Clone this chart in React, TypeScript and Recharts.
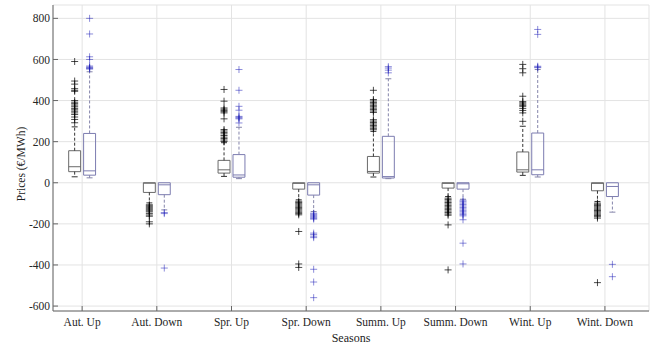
import React from 'react';
import {
    ComposedChart,
    XAxis,
    YAxis,
    CartesianGrid,
    Scatter,
    ReferenceArea,
    ReferenceLine,
} from 'recharts';

const seasons = ['Aut. Up', 'Aut. Down', 'Spr. Up', 'Spr. Down', 'Summ. Up', 'Summ. Down', 'Wint. Up', 'Wint. Down'];
const seasonTicks = [1, 2, 3, 4, 5, 6, 7, 8];
const priceTicks = [-600, -400, -200, 0, 200, 400, 600, 800];

// first box of each pair (black)
const blackLow = [29, -98, 31, -83, 28, -67, 36, -91];
const blackQ1 = [54, -47, 47, -31, 47, -26, 52, -39];
const blackMedian = [78, -2, 63, -3, 55, -3, 63, -3];
const blackQ3 = [156, 0, 109, 0, 128, 0, 150, 0];
const blackHigh = [272, 0, 195, 0, 250, 0, 275, 0];
const blackOutliers: number[][] = [
    [590, 495, 480, 458, 450, 445, 400, 392, 385, 378, 370, 362, 355, 348, 340, 332, 320, 308, 292],
    [-107, -112, -117, -122, -127, -132, -137, -142, -150, -157, -163, -190, -200],
    [454, 397, 364, 358, 352, 346, 340, 311, 259, 252, 245, 238, 230, 222, 215, 208, 201],
    [-90, -96, -102, -108, -114, -120, -126, -132, -138, -144, -150, -156, -237, -395, -412],
    [450, 405, 398, 391, 384, 377, 370, 363, 356, 349, 342, 307, 300, 293, 286, 279, 272, 265, 258],
    [-75, -82, -89, -96, -103, -110, -117, -124, -131, -138, -145, -152, -158, -205, -424],
    [576, 555, 535, 421, 395, 389, 383, 377, 372, 362, 352, 340, 299],
    [-99, -105, -111, -117, -123, -129, -135, -141, -147, -153, -159, -165, -172, -486],
];

// second box of each pair (blue)
const blueLow = [24, -132, 20, -140, 20, -80, 28, -143];
const blueQ1 = [37, -58, 27, -60, 23, -31, 39, -67];
const blueMedian = [58, -10, 38, -10, 30, -5, 63, -18];
const blueQ3 = [240, 0, 137, 0, 226, 0, 242, 0];
const blueHigh = [540, 0, 270, 0, 506, 0, 551, 0];
const blueOutliers: number[][] = [
    [800, 724, 613, 600, 568, 563, 560, 556, 553],
    [-145, -150, -415],
    [551, 450, 372, 353, 323, 319, 315, 311, 291],
    [-148, -153, -158, -163, -168, -173, -177, -245, -252, -260, -267, -421, -483, -559],
    [535, 548, 558, 565],
    [-85, -92, -99, -106, -113, -120, -127, -134, -141, -148, -155, -161, -180, -294, -395],
    [560, 563, 567, 722, 746],
    [-397, -457],
];

const FONT = 'Liberation Serif, Times New Roman, Times, serif';
const BOX_SHIFT = 0.1;
const BOX_HALF = 0.08;
const CAP_HALF = 0.04;

const toPoints = (lists: number[][], shift: number) =>
    lists.flatMap((vals, i) => vals.map((y) => ({ x: i + 1 + shift, y })));

const Plus = (color: string, opacity: number) => (props: any) => {
    const { cx, cy } = props;
    if (cx == null || cy == null) return <g />;
    return (
        <g stroke={color} strokeOpacity={opacity} strokeWidth={1}>
            <line x1={cx - 3.5} x2={cx + 3.5} y1={cy} y2={cy} />
            <line x1={cx} x2={cx} y1={cy - 3.5} y2={cy + 3.5} />
        </g>
    );
};

function boxes(
    name: string,
    shift: number,
    low: number[],
    q1: number[],
    median: number[],
    q3: number[],
    high: number[],
    boxColor: string,
    whiskerColor: string
) {
    return seasons.flatMap((_, i) => {
        const c = i + 1 + shift;
        const items = [];
        if (high[i] > q3[i]) {
            items.push(
                <ReferenceLine key={`${name}-hw-${i}`} segment={[{ x: c, y: q3[i] }, { x: c, y: high[i] }]}
                    stroke={whiskerColor} strokeDasharray="3 2" />,
                <ReferenceLine key={`${name}-hc-${i}`} segment={[{ x: c - CAP_HALF, y: high[i] }, { x: c + CAP_HALF, y: high[i] }]}
                    stroke={whiskerColor} />
            );
        }
        if (low[i] < q1[i]) {
            items.push(
                <ReferenceLine key={`${name}-lw-${i}`} segment={[{ x: c, y: q1[i] }, { x: c, y: low[i] }]}
                    stroke={whiskerColor} strokeDasharray="3 2" />,
                <ReferenceLine key={`${name}-lc-${i}`} segment={[{ x: c - CAP_HALF, y: low[i] }, { x: c + CAP_HALF, y: low[i] }]}
                    stroke={whiskerColor} />
            );
        }
        items.push(
            <ReferenceArea key={`${name}-box-${i}`} x1={c - BOX_HALF} x2={c + BOX_HALF} y1={q1[i]} y2={q3[i]}
                fill="#fff" fillOpacity={0} stroke={boxColor} strokeWidth={1} strokeOpacity={1} />,
            <ReferenceLine key={`${name}-med-${i}`} segment={[{ x: c - BOX_HALF, y: median[i] }, { x: c + BOX_HALF, y: median[i] }]}
                stroke={boxColor} />
        );
        return items;
    });
}

const YLabel = (props: any) => {
    const { viewBox } = props;
    const x = viewBox.x + 13;
    const y = viewBox.y + viewBox.height / 2 + 6;
    return (
        <text x={x} y={y} transform={`rotate(-90, ${x}, ${y})`} textAnchor="middle" dominantBaseline="central"
            style={{ fontFamily: FONT, fontSize: 11.5 }} fill="#222">
            Prices (€/MWh)
        </text>
    );
};

const App: React.FC = () => {
    const blackPoints = toPoints(blackOutliers, -BOX_SHIFT);
    const bluePoints = toPoints(blueOutliers, BOX_SHIFT);
    const tickStyle = { fill: '#262626', fontSize: 11.5, fontFamily: FONT, style: { fontFamily: FONT } };
    const xDomain: [number, number] = [0.61, 8.59];
    const yDomain: [number, number] = [-624, 865];

    return (
        <div style={{ position: 'absolute', left: 0, top: 0, width: 667, height: 345, background: '#fff', fontFamily: FONT }}>
            <ComposedChart width={667} height={345} margin={{ top: 5, right: 18, left: 8, bottom: 0 }}
                style={{ fontFamily: FONT }}>
                <CartesianGrid stroke="#e3e3e3" />
                <XAxis dataKey="x" type="number" domain={xDomain} ticks={seasonTicks} interval={0} allowDataOverflow
                    tickFormatter={(v: number) => seasons[v - 1]} tickSize={-5} tickMargin={12} height={34}
                    stroke="#666" tick={tickStyle}
                    label={{ value: 'Seasons', position: 'insideBottom', offset: 3, fill: '#222', fontSize: 12, fontFamily: FONT }} />
                <XAxis xAxisId="top" dataKey="x" orientation="top" type="number" domain={xDomain} ticks={seasonTicks}
                    interval={0} allowDataOverflow tickFormatter={() => ''} tickSize={-5} height={0} stroke="#666" />
                <YAxis dataKey="y" type="number" domain={yDomain} ticks={priceTicks} interval={0} allowDataOverflow
                    width={45} tickSize={-5} tickMargin={8} stroke="#666" tick={tickStyle}
                    label={{ content: <YLabel /> }} />
                <YAxis yAxisId="right" dataKey="y" orientation="right" type="number" domain={yDomain} ticks={priceTicks}
                    interval={0} allowDataOverflow tickFormatter={() => ''} tickSize={-5} width={0} stroke="#666" />
                {boxes('k', -BOX_SHIFT, blackLow, blackQ1, blackMedian, blackQ3, blackHigh, '#6a6a6a', '#333')}
                {boxes('b', BOX_SHIFT, blueLow, blueQ1, blueMedian, blueQ3, blueHigh, '#7c7cb0', '#8585aa')}
                <Scatter data={blackPoints} dataKey="y" shape={Plus('#000', 0.7)} isAnimationActive={false} />
                <Scatter data={bluePoints} dataKey="y" shape={Plus('#1c1cb8', 0.5)} isAnimationActive={false} />
            </ComposedChart>
        </div>
    );
};

export default App;
